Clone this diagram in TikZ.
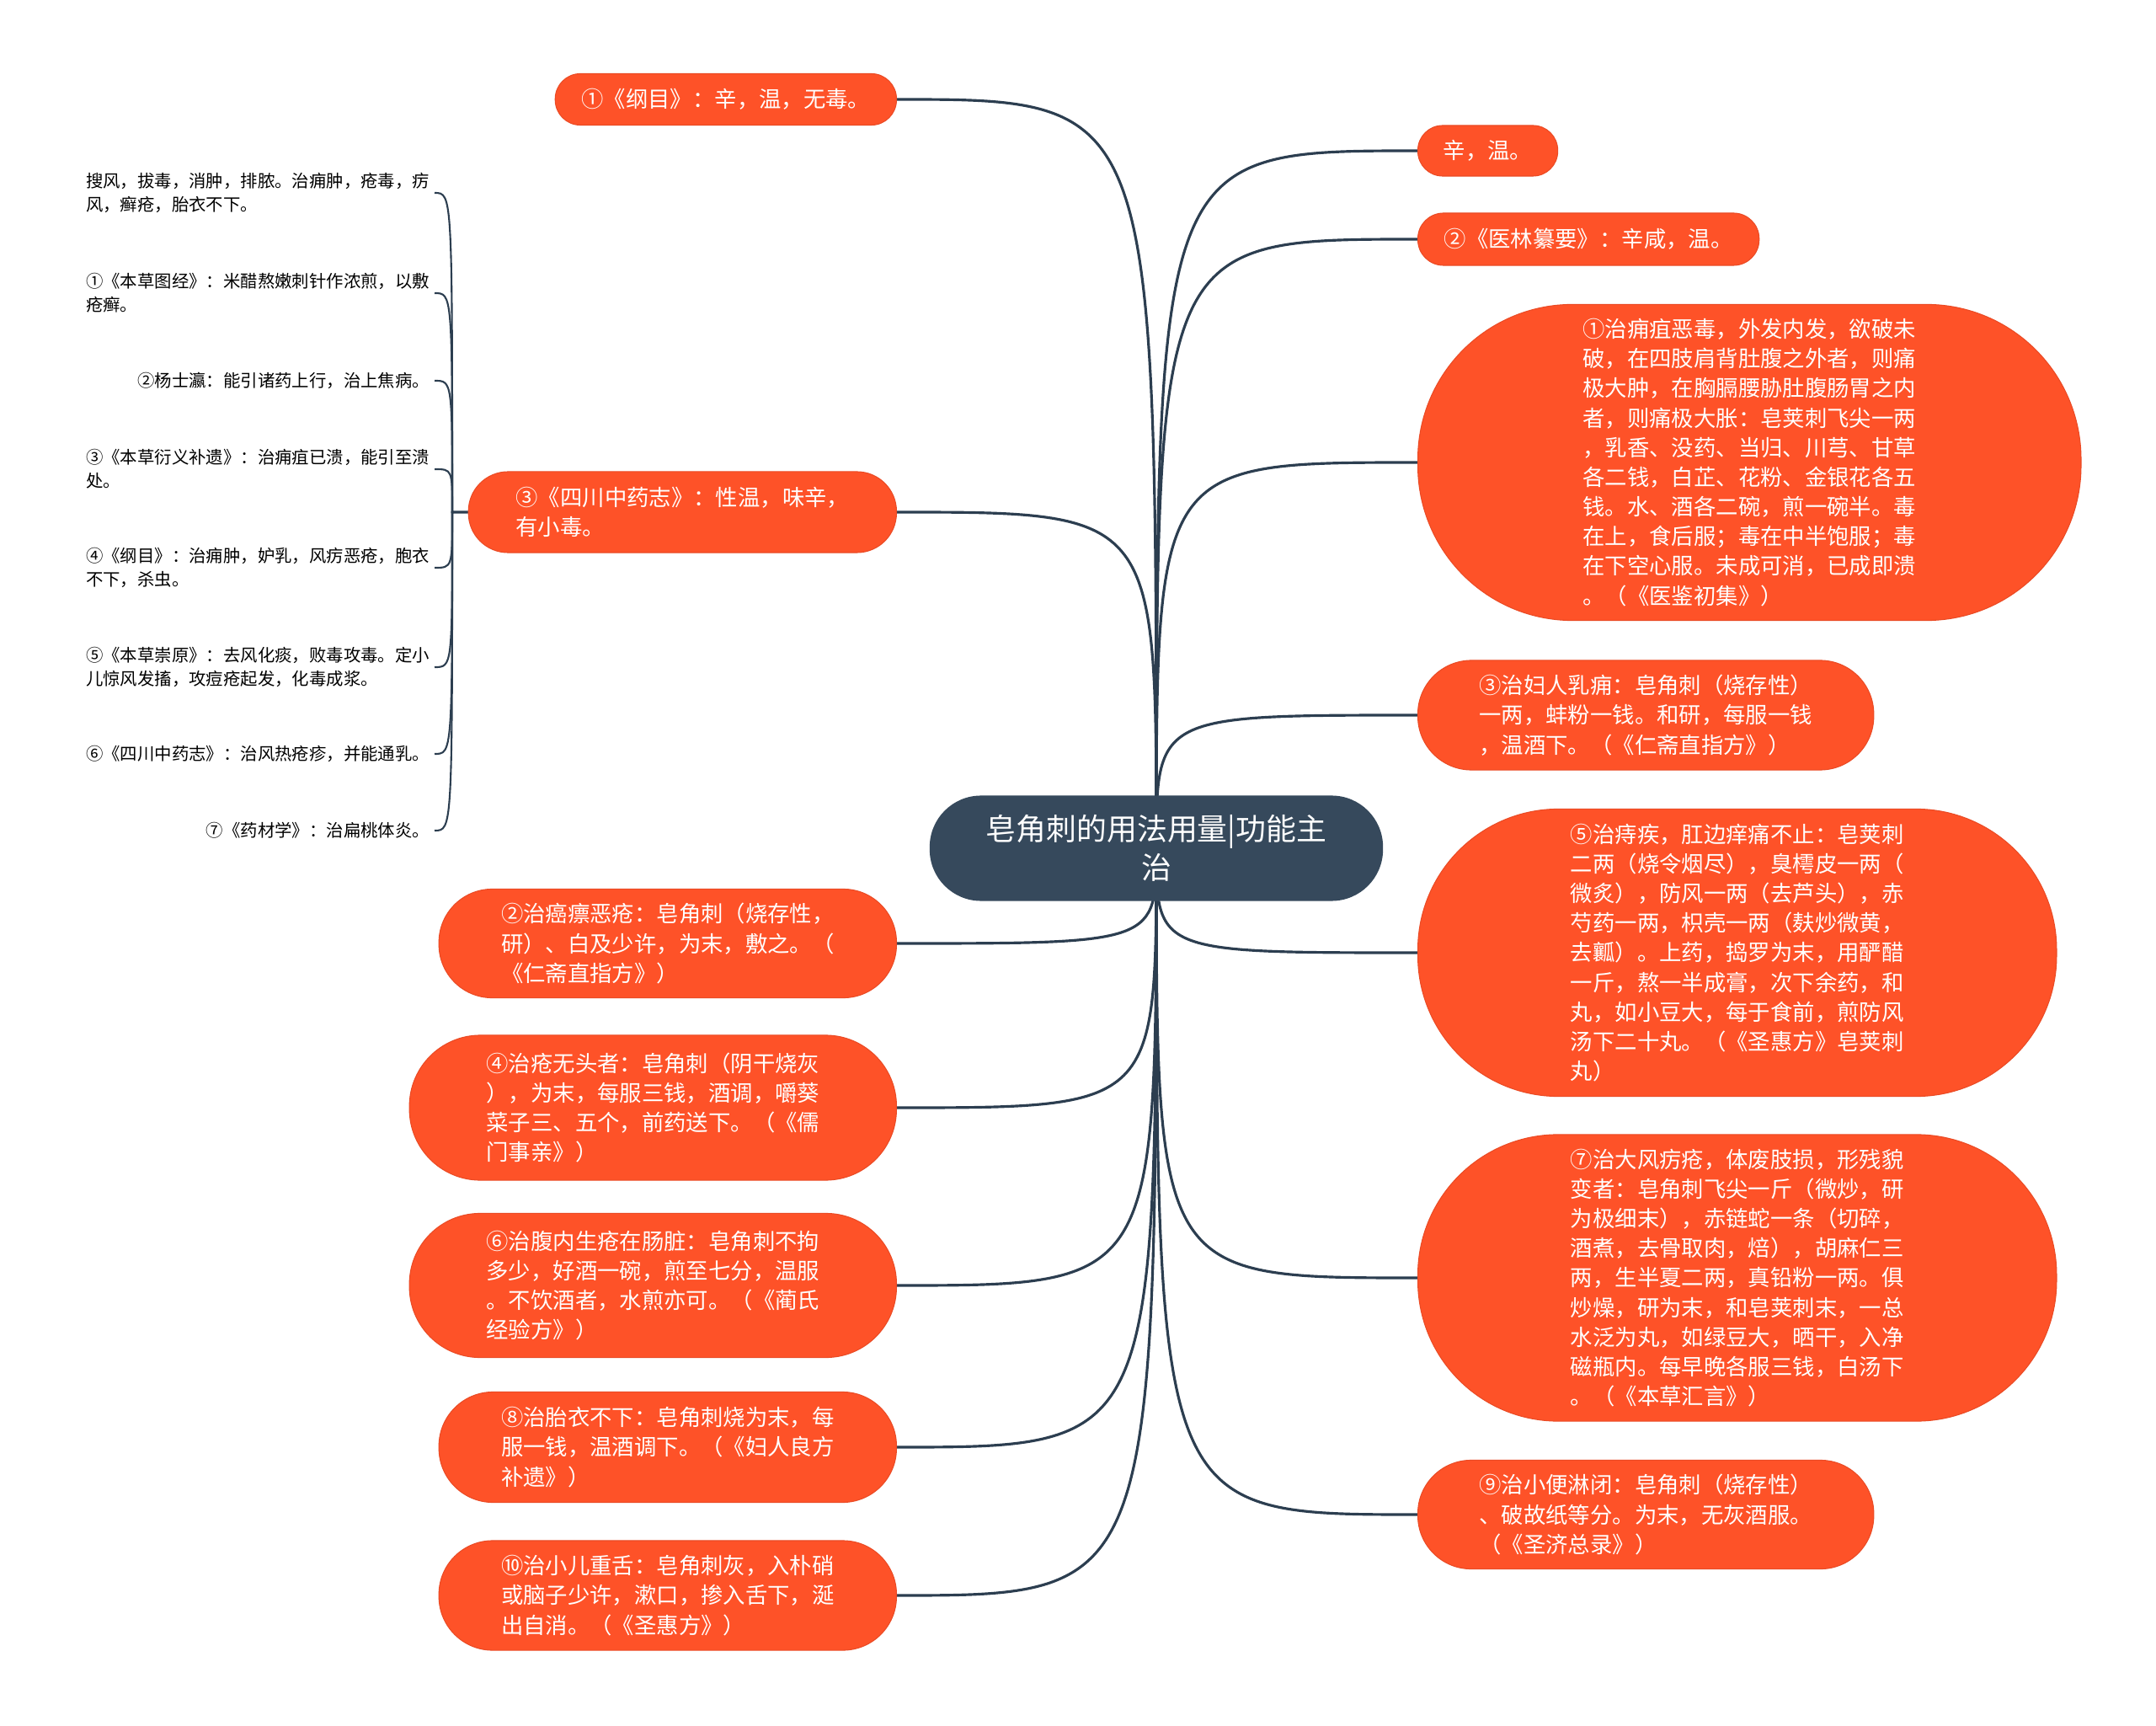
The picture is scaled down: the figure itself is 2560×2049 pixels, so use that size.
\documentclass[tikz,border=0pt]{standalone}
\usepackage{fontspec}
\setmainfont{Noto Sans CJK SC}
\usetikzlibrary{backgrounds}
\definecolor{zhuhong}{RGB}{254,82,40}
\definecolor{shenlan}{RGB}{54,73,92}
\definecolor{xianse}{RGB}{44,62,80}

\begin{document}
\begin{tikzpicture}[x=0.01cm,y=-0.01cm,
  zhong/.style={rectangle,fill=shenlan,text=white,align=center,inner sep=0pt,minimum width=5.38cm,minimum height=1.25cm,rounded corners=0.61cm,font=\fontsize{10.2pt}{13pt}\selectfont},
  ye/.style 2 args={rectangle,fill=zhuhong,draw=zhuhong!92!black,line width=0.3pt,text=white,align=left,inner sep=0pt,minimum width=#1,minimum height=#2,rounded corners=0.49*#2,font=\fontsize{7.5pt}{10pt}\selectfont},
  zi/.style={anchor=east,align=left,inner xsep=1.5pt,inner ysep=0pt,text=black,font=\fontsize{5.8pt}{7.9pt}\selectfont},
  lian/.style={draw=xianse,line width=0.9pt},
  xilian/.style={draw=xianse,line width=0.6pt}]
\useasboundingbox (0,0) rectangle (2560,2049);

\node[zhong] (root) at (1373,1007) {皂角刺的用法用量|功能主\\治};

% left
\node[ye={4.05cm}{0.61cm},anchor=east] (gangmu) at (1065,118) {①《纲目》：辛，温，无毒。};
\node[ye={5.08cm}{0.96cm},anchor=east] (sichuan) at (1065,608) {③《四川中药志》：性温，味辛，\\有小毒。};
\node[ye={5.43cm}{1.29cm},anchor=east] (zhi2) at (1065,1120) {②治癌瘭恶疮：皂角刺（烧存性，\\研）、白及少许，为末，敷之。（\\《仁斋直指方》）};
\node[ye={5.78cm}{1.72cm},anchor=east] (zhi4) at (1065,1315) {④治疮无头者：皂角刺（阴干烧灰\\），为末，每服三钱，酒调，嚼葵\\菜子三、五个，前药送下。（《儒\\门事亲》）};
\node[ye={5.78cm}{1.71cm},anchor=east] (zhi6) at (1065,1526) {⑥治腹内生疮在肠脏：皂角刺不拘\\多少，好酒一碗，煎至七分，温服\\。不饮酒者，水煎亦可。（《蔺氏\\经验方》）};
\node[ye={5.43cm}{1.31cm},anchor=east] (zhi8) at (1065,1718) {⑧治胎衣不下：皂角刺烧为末，每\\服一钱，温酒调下。（《妇人良方\\补遗》）};
\node[ye={5.43cm}{1.30cm},anchor=east] (zhi10) at (1065,1894) {⑩治小儿重舌：皂角刺灰，入朴硝\\或脑子少许，漱口，掺入舌下，涎\\出自消。（《圣惠方》）};

% right
\node[ye={1.66cm}{0.60cm},anchor=west] (xin) at (1683,179) {辛，温。};
\node[ye={4.05cm}{0.62cm},anchor=west] (yilin) at (1683,284) {②《医林纂要》：辛咸，温。};
\node[ye={7.87cm}{3.75cm},anchor=west] (zhi1) at (1683,549) {①治痈疽恶毒，外发内发，欲破未\\破，在四肢肩背肚腹之外者，则痛\\极大肿，在胸膈腰胁肚腹肠胃之内\\者，则痛极大胀：皂荚刺飞尖一两\\，乳香、没药、当归、川芎、甘草\\各二钱，白芷、花粉、金银花各五\\钱。水、酒各二碗，煎一碗半。毒\\在上，食后服；毒在中半饱服；毒\\在下空心服。未成可消，已成即溃\\。（《医鉴初集》）};
\node[ye={5.41cm}{1.30cm},anchor=west] (zhi3) at (1683,849) {③治妇人乳痈：皂角刺（烧存性）\\一两，蚌粉一钱。和研，每服一钱\\，温酒下。（《仁斋直指方》）};
\node[ye={7.58cm}{3.41cm},anchor=west] (zhi5) at (1683,1131) {⑤治痔疾，肛边痒痛不止：皂荚刺\\二两（烧令烟尽），臭樗皮一两（\\微炙），防风一两（去芦头），赤\\芍药一两，枳壳一两（麸炒微黄，\\去瓤）。上药，捣罗为末，用酽醋\\一斤，熬一半成膏，次下余药，和\\丸，如小豆大，每于食前，煎防风\\汤下二十丸。（《圣惠方》皂荚刺\\丸）};
\node[ye={7.58cm}{3.40cm},anchor=west] (zhi7) at (1683,1517) {⑦治大风疠疮，体废肢损，形残貌\\变者：皂角刺飞尖一斤（微炒，研\\为极细末），赤链蛇一条（切碎，\\酒煮，去骨取肉，焙），胡麻仁三\\两，生半夏二两，真铅粉一两。俱\\炒燥，研为末，和皂荚刺末，一总\\水泛为丸，如绿豆大，晒干，入净\\磁瓶内。每早晚各服三钱，白汤下\\。（《本草汇言》）};
\node[ye={5.41cm}{1.29cm},anchor=west] (zhi9) at (1683,1798) {⑨治小便淋闭：皂角刺（烧存性）\\、破故纸等分。为末，无灰酒服。\\（《圣济总录》）};

% items under sichuan
\node[zi] (s1) at (516,229) {搜风，拔毒，消肿，排脓。治痈肿，疮毒，疠\\风，癣疮，胎衣不下。};
\node[zi] (s2) at (516,348) {①《本草图经》：米醋熬嫩刺针作浓煎，以敷\\疮癣。};
\node[zi] (s3) at (516,452) {②杨士瀛：能引诸药上行，治上焦病。};
\node[zi] (s4) at (516,557) {③《本草衍义补遗》：治痈疽已溃，能引至溃\\处。};
\node[zi] (s5) at (516,674) {④《纲目》：治痈肿，妒乳，风疠恶疮，胞衣\\不下，杀虫。};
\node[zi] (s6) at (516,792) {⑤《本草崇原》：去风化痰，败毒攻毒。定小\\儿惊风发搐，攻痘疮起发，化毒成浆。};
\node[zi] (s7) at (516,895) {⑥《四川中药志》：治风热疮疹，并能通乳。};
\node[zi] (s8) at (516,986) {⑦《药材学》：治扁桃体炎。};
\coordinate (hubL) at (537,608);

\begin{pgfonlayer}{background}
\foreach \n/\a in {gangmu/east,sichuan/east,zhi2/east,zhi4/east,zhi6/east,zhi8/east,zhi10/east,
  xin/west,yilin/west,zhi1/west,zhi3/west,zhi5/west,zhi7/west,zhi9/west}
  \draw[lian] (root.center) .. controls (root.center |- \n.\a) .. (\n.\a);
\foreach \n in {s1,s2,s3,s4,s5,s6,s7,s8}
  \draw[xilian] (sichuan.west) -- (hubL) .. controls (hubL |- \n.east) .. (\n.east);
\end{pgfonlayer}
\end{tikzpicture}
\end{document}
